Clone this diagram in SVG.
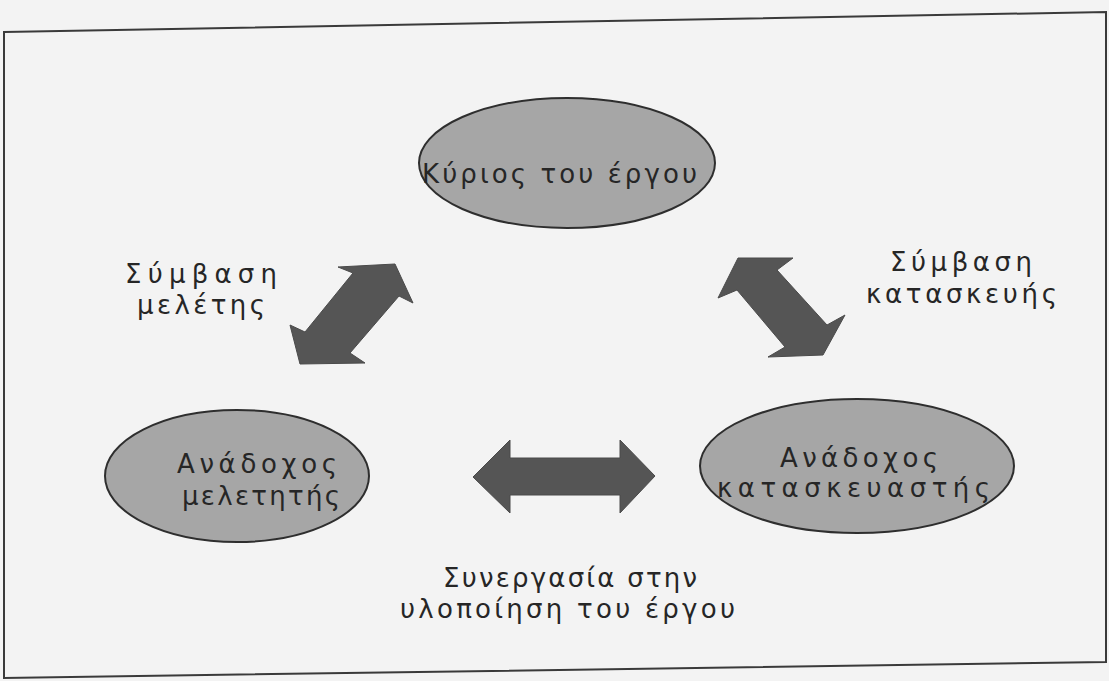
<svg xmlns="http://www.w3.org/2000/svg" width="1109" height="681" viewBox="0 0 1109 681">
  <style>
    .bg { fill: #f3f3f3; }
    .frame { fill: none; stroke: #3a3a3a; stroke-width: 2; }
    .node ellipse { fill: #a6a6a6; stroke: #2e2e2e; stroke-width: 2; }
    .t { font-family: "DejaVu Sans", "Noto Sans", sans-serif; font-size: 26px; fill: #262626; text-anchor: start; }
    .arrow { fill: #555555; stroke: #4a4a4a; stroke-width: 1; stroke-linejoin: miter; }
  </style>
  <rect class="bg" x="0" y="0" width="1109" height="681"/>
  <polygon class="frame" points="4,32 1106,12 1106,662 4,678"/>

  <g id="connectors">
    <polygon id="arrow-design" class="arrow" points="395,264 413,303 399,296 350,353 365,363 300,364 290,325 305,332 353,273 338,267"/>
    <polygon id="arrow-construction" class="arrow" points="738,258 793,258 777,270 827,325 845,315 823,355 768,357 785,347 737,290 718,298"/>
    <polygon id="arrow-cooperation" class="arrow" points="473,477 510,440 510,458 620,458 620,440 655,476 620,513 620,495 510,495 510,513"/>
  </g>

  <g id="node-owner" class="node">
    <ellipse cx="567" cy="163" rx="148" ry="65"/>
    <text class="t" x="422" y="183" textLength="275" lengthAdjust="spacing">Κύριος του έργου</text>
  </g>

  <g id="node-designer" class="node">
    <ellipse cx="237" cy="476" rx="132" ry="66"/>
    <text class="t" x="177" y="473" textLength="160" lengthAdjust="spacing">Ανάδοχος</text>
    <text class="t" x="182" y="505" textLength="158" lengthAdjust="spacing">μελετητής</text>
  </g>

  <g id="node-contractor" class="node">
    <ellipse cx="857" cy="466" rx="157" ry="67"/>
    <text class="t" x="780" y="467" textLength="158" lengthAdjust="spacing">Ανάδοχος</text>
    <text class="t" x="717" y="497" textLength="273" lengthAdjust="spacing">κατασκευαστής</text>
  </g>

  <g id="labels">
    <text class="t" x="125" y="283" textLength="152" lengthAdjust="spacing">Σύμβαση</text>
    <text class="t" x="137" y="314" textLength="128" lengthAdjust="spacing">μελέτης</text>
    <text class="t" x="890" y="271" textLength="142" lengthAdjust="spacing">Σύμβαση</text>
    <text class="t" x="866" y="303" textLength="191" lengthAdjust="spacing">κατασκευής</text>
    <text class="t" x="443" y="587" textLength="254" lengthAdjust="spacing">Συνεργασία στην</text>
    <text class="t" x="400" y="618" textLength="335" lengthAdjust="spacing">υλοποίηση του έργου</text>
  </g>
</svg>
